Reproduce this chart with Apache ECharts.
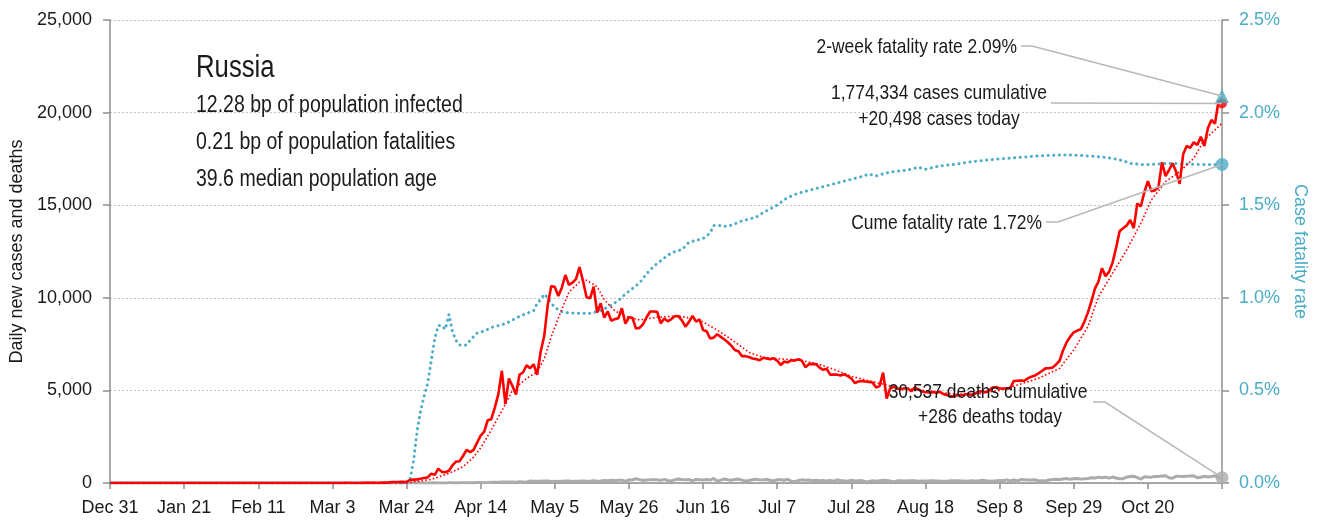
<!DOCTYPE html>
<html lang="en">
<head>
<meta charset="UTF-8">
<title>Russia - daily cases and fatality rate</title>
<script src="https://cdn.jsdelivr.net/npm/echarts@6/dist/echarts.min.js"></script>
<style>
  html, body { margin: 0; padding: 0; background: #fff; }
  #main { width: 1322px; height: 525px; }
</style>
</head>
<body>
<div id="main"></div>
<script>
// day 0 = Dec 31, ticks every 3 weeks
var tickLabels = ['Dec 31', 'Jan 21', 'Feb 11', 'Mar 3', 'Mar 24', 'Apr 14', 'May 5', 'May 26',
  'Jun 16', 'Jul 7', 'Jul 28', 'Aug 18', 'Sep 8', 'Sep 29', 'Oct 20', ''];
var lastDay = 315;

// daily new cases, starting at day 60
var casesStart = 60;
var dailyCases = [
  0, 0, 1, 0, 0, 0, 0, 7, 0, 0,
  3, 3, 7, 6, 11, 14, 4, 30, 21, 33,
  52, 53, 61, 71, 57, 163, 182, 196, 228, 270,
  302, 501, 440, 771, 601, 582, 658, 954, 1154, 1175,
  1459, 1786, 1667, 1786, 2186, 2558, 2774, 3388, 3448, 4070,
  4785, 6060, 4268, 5642, 5236, 4774, 5849, 5966, 6361, 6198,
  6411, 5841, 7099, 7933, 9623, 10633, 10581, 10102, 10559, 11231,
  10699, 10817, 11012, 11656, 10899, 10028, 9974, 10598, 9200, 9709,
  8926, 9263, 8764, 8849, 8894, 9434, 8599, 8946, 8915, 8338,
  8371, 8572, 8950, 9260, 9260, 9240, 8620, 8880, 8730, 8850,
  9000, 9010, 8780, 8440, 8700, 9020, 8710, 8840, 8260, 8200,
  7800, 7850, 8030, 7890, 7760, 7600, 7420, 7180, 7110, 6850,
  6850, 6800, 6720, 6690, 6630, 6760, 6720, 6680, 6730, 6610,
  6370, 6560, 6510, 6630, 6610, 6680, 6600, 6250, 6420, 6430,
  6410, 6230, 6110, 6170, 5850, 5860, 5850, 5810, 5870, 5770,
  5640, 5400, 5480, 5510, 5480, 5460, 5430, 5160, 5240, 5960,
  4560, 5100, 5210, 5100, 5060, 5110, 5100, 4950, 5170, 5060,
  4940, 4900, 4890, 4920, 4870, 4930, 4810, 4750, 4700, 4660,
  4750, 4720, 4770, 4810, 4740, 4830, 4940, 4950, 4900, 5000,
  5150, 5180, 5100, 5100, 5110, 5110, 5510, 5520, 5530, 5520,
  5650, 5740, 5800, 5920, 6050, 6190, 6200, 6230, 6400, 6600,
  7170, 7600, 7900, 8130, 8230, 8300, 8700, 9200, 9800, 10500,
  10870, 11600, 11170, 11400, 11900, 12700, 13600, 13750, 13900, 14200,
  13760, 15100, 14930, 15700, 16300, 15760, 15800, 15980, 17320, 16570,
  16900, 17260, 16800, 16150, 17750, 18200, 18100, 18400, 18250, 18700,
  18200, 19150, 19600, 19400, 20600, 20498
];

// daily deaths, starting at day 85
var deathsStart = 85;
var dailyDeaths = [
  1, 1, 1, 2, 2, 2, 4, 7, 2, 4,
  4, 9, 11, 5, 13, 18, 12, 18, 11, 24,
  22, 18, 28, 41, 36, 42, 51, 57, 50, 60,
  42, 66, 58, 44, 108, 96, 101, 96, 108, 110,
  76, 88, 86, 98, 107, 104, 88, 94, 96, 107,
  95, 93, 119, 94, 113, 135, 127, 150, 139, 153,
  153, 92, 174, 161, 232, 181, 138, 162, 171, 182,
  169, 144, 197, 134, 112, 171, 216, 193, 181, 194,
  113, 194, 181, 161, 187, 161, 245, 98, 154, 216,
  176, 147, 188, 216, 154, 104, 135, 173, 198, 168,
  174, 189, 144, 114, 175, 175, 150, 202, 95, 85,
  130, 170, 147, 165, 124, 150, 121, 129, 112, 135,
  95, 165, 130, 113, 95, 147, 114, 126, 129, 70,
  85, 119, 95, 127, 144, 129, 113, 60, 115, 121,
  114, 122, 121, 119, 90, 110, 112, 117, 125, 110,
  103, 98, 88, 128, 123, 116, 104, 110, 101, 117,
  112, 110, 143, 126, 97, 107, 116, 138, 122, 169,
  112, 160, 117, 186, 173, 156, 160, 179, 107, 117,
  108, 160, 186, 202, 190, 220, 245, 198, 232, 239,
  219, 227, 244, 286, 265, 317, 283, 317, 263, 320,
  270, 229, 234, 320, 346, 366, 295, 208, 334, 320,
  316, 357, 355, 378, 389, 286, 256, 364, 358, 355,
  368, 378, 389, 286, 313, 365, 321, 352, 387, 313, 286
];

// smoothed (weekly average) cases, [day, value]
var avgCases = [
  [0, 0], [84, 0], [88, 100], [91, 200], [94, 380], [97, 600], [100, 880], [103, 1400],
  [105, 1900], [108, 2860], [111, 3900], [114, 5000], [118, 5650], [121, 6000], [123, 6700],
  [125, 7900], [128, 9400], [130, 10300], [133, 10850], [135, 10950], [138, 10600],
  [140, 9900], [143, 9300], [146, 9000], [150, 8800], [155, 8950], [161, 9020], [167, 8800],
  [172, 8260], [176, 7750], [181, 7050], [185, 6790], [190, 6700], [195, 6640], [200, 6460],
  [205, 6140], [210, 5760], [216, 5470], [222, 5200], [228, 5060], [234, 4900], [240, 4800],
  [246, 4820], [252, 5000], [257, 5290], [263, 5650], [269, 6190], [273, 7180], [277, 8440],
  [280, 10060], [284, 11320], [288, 12580], [292, 14020], [295, 15280], [299, 16270],
  [303, 16810], [307, 17530], [310, 18520], [315, 19420]
];

// cumulative case fatality rate (%), [day, value]
var fatalityRate = [
  [0, 0], [84, 0], [85, 0.02], [86, 0.12], [87, 0.28], [88, 0.39], [89, 0.47], [90, 0.54],
  [91, 0.66], [92, 0.78], [93, 0.85], [94, 0.85], [95, 0.83], [96, 0.91], [97, 0.82],
  [98, 0.77], [99, 0.745], [100, 0.745], [101, 0.745], [102, 0.77], [103, 0.79], [104, 0.81],
  [106, 0.82], [108, 0.84], [110, 0.85], [112, 0.86], [114, 0.88], [116, 0.9], [118, 0.915],
  [120, 0.93], [121, 0.97], [122, 0.99], [123, 1.02], [124, 1.0], [125, 0.97], [126, 0.95],
  [127, 0.935], [128, 0.925], [130, 0.918], [133, 0.916], [136, 0.916], [138, 0.925],
  [140, 0.94], [142, 0.96], [144, 0.985], [146, 1.02], [148, 1.05], [150, 1.08], [152, 1.13],
  [154, 1.17], [156, 1.2], [158, 1.23], [160, 1.25], [162, 1.26], [164, 1.3], [166, 1.31],
  [168, 1.32], [170, 1.35], [171, 1.39], [173, 1.39], [175, 1.385], [177, 1.4], [179, 1.415],
  [181, 1.425], [183, 1.435], [185, 1.46], [187, 1.48], [189, 1.5], [191, 1.53], [193, 1.55],
  [195, 1.565], [198, 1.58], [201, 1.595], [204, 1.61], [207, 1.625], [210, 1.64],
  [213, 1.655], [215, 1.668], [217, 1.658], [220, 1.675], [223, 1.684], [226, 1.69],
  [229, 1.705], [231, 1.694], [235, 1.712], [240, 1.722], [244, 1.735], [249, 1.745],
  [254, 1.753], [259, 1.76], [263, 1.766], [267, 1.77], [271, 1.771], [274, 1.77],
  [277, 1.766], [281, 1.76], [284, 1.753], [287, 1.74], [289, 1.726], [292, 1.72],
  [295, 1.72], [298, 1.724], [301, 1.726], [305, 1.722], [309, 1.72], [312, 1.72], [315, 1.72]
];

var twoWeekRate = 2.09;
var cumeRate = 1.72;
var casesCumulative = 1774334;
var casesToday = 20498;
var deathsCumulative = 30537;
var deathsToday = 286;

var infoLines = ['12.28 bp of population infected', '0.21 bp of population fatalities', '39.6 median population age'];

var font = '"Liberation Sans", Arial, sans-serif';
var blue = '#4bacc6';
var axisGray = '#8f8f8f';
var textColor = '#1a1a1a';
var narrow = 0.83; // squeeze free text to look like a condensed face

function fmtThousands(v) {
  return String(v).replace(/\B(?=(\d{3})+(?!\d))/g, ',');
}

var casesData = dailyCases.map(function (v, i) { return [casesStart + i, v]; });
casesData.unshift([0, 0]);
var deathsData = dailyDeaths.map(function (v, i) { return [deathsStart + i, v]; });
deathsData.unshift([0, 0]);

var chart = echarts.init(document.getElementById('main'), null, { renderer: 'canvas' });

chart.setOption({
  animation: false,
  backgroundColor: '#fff',
  grid: { left: 110, right: 100, top: 20, bottom: 42, containLabel: false, outerBoundsMode: 'none' },
  xAxis: {
    type: 'value', min: 0, max: lastDay, interval: 21,
    axisLine: { show: true, lineStyle: { color: axisGray, width: 1.5 } },
    axisTick: { show: true, length: 6, lineStyle: { color: axisGray, width: 1.5 } },
    splitLine: { show: false },
    axisLabel: {
      color: textColor, fontFamily: font, fontSize: 18, margin: 16,
      formatter: function (v) { return tickLabels[Math.round(v / 21)] || ''; }
    }
  },
  yAxis: [{
    type: 'value', min: 0, max: 25000, interval: 5000,
    name: 'Daily new cases and deaths', nameLocation: 'middle', nameGap: 70,
    nameTextStyle: { color: textColor, fontFamily: font, fontSize: 18 },
    axisLine: { show: true, lineStyle: { color: axisGray, width: 1.5 } },
    axisTick: { show: true, length: 7, lineStyle: { color: axisGray, width: 1.5 } },
    splitLine: { show: true, lineStyle: { color: '#c4c4c4', type: [2, 2], width: 1 } },
    axisLabel: { color: textColor, fontFamily: font, fontSize: 18, margin: 18, formatter: fmtThousands }
  }, {
    type: 'value', min: 0, max: 2.5, interval: 0.5, position: 'right',
    name: 'Case fatality rate', nameLocation: 'middle', nameGap: 62, nameRotate: -90,
    nameTextStyle: { color: blue, fontFamily: font, fontSize: 18 },
    axisLine: { show: true, lineStyle: { color: axisGray, width: 1.5 } },
    axisTick: { show: true, length: 7, lineStyle: { color: axisGray, width: 1.5 } },
    splitLine: { show: false },
    axisLabel: {
      color: blue, fontFamily: font, fontSize: 18, margin: 17,
      formatter: function (v) { return v.toFixed(1) + '%'; }
    }
  }],
  series: [{
    id: 'deaths', type: 'line', data: deathsData, showSymbol: false, z: 2,
    lineStyle: { color: '#ababab', width: 3 }
  }, {
    id: 'cfr', type: 'line', yAxisIndex: 1, data: fatalityRate, showSymbol: false, z: 3,
    lineStyle: { color: blue, width: 3, type: [0.1, 5.5], cap: 'round' }
  }, {
    id: 'avg', type: 'line', data: avgCases, showSymbol: false, z: 4,
    lineStyle: { color: '#ff0000', width: 1.6, type: [1.6, 2.2] }
  }, {
    id: 'cases', type: 'line', data: casesData, showSymbol: false, z: 5,
    lineStyle: { color: '#ff0000', width: 2.6 }
  }, {
    id: 'deathsEnd', type: 'scatter', data: [[lastDay, deathsToday]], symbol: 'circle', symbolSize: 13, z: 6,
    itemStyle: { color: '#ababab' }
  }, {
    id: 'casesEnd', type: 'scatter', data: [[lastDay, casesToday]], symbol: 'circle', symbolSize: 10, z: 6,
    itemStyle: { color: '#ff0000' }
  }, {
    id: 'cumeEnd', type: 'scatter', yAxisIndex: 1, data: [[lastDay, cumeRate]], symbol: 'circle', symbolSize: 13, z: 7,
    itemStyle: { color: blue }
  }, {
    id: 'twoWeekEnd', type: 'scatter', yAxisIndex: 1, data: [[lastDay, twoWeekRate]], symbol: 'triangle', symbolSize: 14, z: 7,
    itemStyle: { color: blue }
  }]
});

// annotation texts and leader lines to the end markers
function px(seriesId, pt) {
  return chart.convertToPixel({ seriesId: seriesId }, pt);
}
function txt(text, x, y, size, align) {
  return {
    type: 'text', z: 20, x: x, y: y, scaleX: narrow, scaleY: 1,
    style: { text: text, x: 0, y: 0, fill: textColor, fontFamily: font, fontSize: size,
      textAlign: align || 'left', textVerticalAlign: 'middle' }
  };
}
function leader(points) {
  return { type: 'polyline', z: 19, shape: { points: points },
    style: { stroke: '#b8b8b8', lineWidth: 1.5, fill: null } };
}

var pTwo = px('twoWeekEnd', [lastDay, twoWeekRate]);
var pCases = px('casesEnd', [lastDay, casesToday]);
var pCume = px('cumeEnd', [lastDay, cumeRate]);
var pDeaths = px('deathsEnd', [lastDay, deathsToday]);

chart.setOption({
  graphic: [
    txt('Russia', 196, 68, 31),
    txt(infoLines[0], 196, 106, 23.5),
    txt(infoLines[1], 196, 143, 23.5),
    txt(infoLines[2], 196, 180, 23.5),

    txt('2-week fatality rate ' + twoWeekRate.toFixed(2) + '%', 1017, 47, 21, 'right'),
    leader([[1021, 46], [1032, 46], pTwo]),

    txt(fmtThousands(casesCumulative) + ' cases cumulative', 939, 93, 21, 'center'),
    txt('+' + fmtThousands(casesToday) + ' cases today', 939, 119, 21, 'center'),
    leader([[1051, 103], pCases]),

    txt('Cume fatality rate ' + cumeRate.toFixed(2) + '%', 1042, 223, 21, 'right'),
    leader([[1046, 222], [1058, 222], pCume]),

    txt(fmtThousands(deathsCumulative) + ' deaths cumulative', 988, 392, 21, 'center'),
    txt('+' + deathsToday + ' deaths today', 990, 417, 21, 'center'),
    leader([[1093, 402], [1105, 402], pDeaths])
  ]
});
</script>
</body>
</html>
